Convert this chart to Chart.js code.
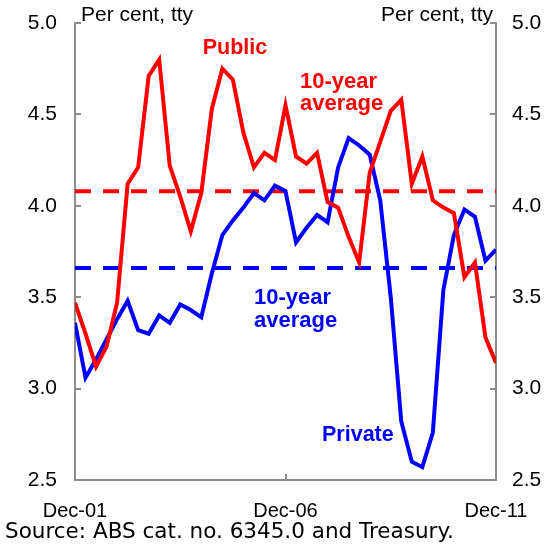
<!DOCTYPE html>
<html>
<head>
<meta charset="utf-8">
<script src="https://cdn.jsdelivr.net/npm/chart.js@4.4.1/dist/chart.umd.min.js"></script>
<style>
  html, body { margin: 0; padding: 0; background: #fff; }
</style>
</head>
<body>
<canvas id="chart" width="547" height="551"></canvas>
<script>
// quarterly, tty growth, per cent (Dec-01 to Dec-11)
const publicSeries = [3.47, 3.30, 3.12, 3.23, 3.47, 4.12, 4.21, 4.71, 4.80, 4.22,
  4.05, 3.86, 4.07, 4.53, 4.75, 4.69, 4.40, 4.21, 4.29, 4.25,
  4.55, 4.27, 4.23, 4.29, 4.02, 3.99, 3.83, 3.69, 4.18, 4.35,
  4.52, 4.58, 4.12, 4.27, 4.03, 3.99, 3.96, 3.61, 3.69, 3.28, 3.14];
const privateSeries = [3.36, 3.06, 3.16, 3.27, 3.38, 3.48, 3.32, 3.30, 3.40, 3.36,
  3.46, 3.43, 3.39, 3.63, 3.84, 3.92, 3.99, 4.07, 4.03, 4.11,
  4.08, 3.80, 3.88, 3.95, 3.91, 4.21, 4.37, 4.33, 4.28, 4.03,
  3.50, 2.82, 2.60, 2.57, 2.76, 3.54, 3.84, 3.98, 3.94, 3.70, 3.76];
const publicAverage = 4.08;
const privateAverage = 3.66;

const xTickPositions = [0, 20, 40];
const xTickLabels = ['Dec-01', 'Dec-06', 'Dec-11'];
const yMin = 2.5, yMax = 5.0, yStep = 0.5;

const RED = '#ff0000';
const BLUE = '#0000ff';
const AXIS = '#8c8c8c';
const lastIndex = publicSeries.length - 1;

const toPoints = arr => arr.map((v, i) => ({ x: i, y: v }));
const flat = v => [{ x: 0, y: v }, { x: lastIndex, y: v }];

const SANS = '"Liberation Sans", Arial, sans-serif';

const noPad = s => { s.paddingTop = 0; s.paddingBottom = 0; s.paddingLeft = 0; s.paddingRight = 0; };

const textPlugin = {
  id: 'labels',
  afterDraw(chart) {
    const ctx = chart.ctx;
    ctx.save();
    ctx.textBaseline = 'middle';
    ctx.fillStyle = '#000';
    ctx.font = '21px ' + SANS;
    ctx.textAlign = 'left';
    ctx.fillText('Per cent, tty', 81, 15);
    ctx.textAlign = 'right';
    ctx.fillText('Per cent, tty', 493, 15);

    ctx.font = 'bold 21.5px ' + SANS;
    ctx.fillStyle = RED;
    ctx.textAlign = 'center';
    ctx.fillText('Public', 235, 48);
    ctx.textAlign = 'left';
    ctx.font = 'bold 22px ' + SANS;
    ctx.fillText('10-year', 300, 82);
    ctx.fillText('average', 300, 104);

    ctx.fillStyle = BLUE;
    ctx.fillText('10-year', 254, 298);
    ctx.fillText('average', 254, 321);
    ctx.font = 'bold 21.5px ' + SANS;
    ctx.fillText('Private', 322, 435);

    ctx.fillStyle = '#000';
    ctx.font = '21.5px "DejaVu Sans", Verdana, sans-serif';
    ctx.fillText('Source: ABS cat. no. 6345.0 and Treasury.', 5, 532);
    ctx.restore();
  }
};

new Chart(document.getElementById('chart'), {
  type: 'line',
  data: {
    datasets: [
      { data: toPoints(publicSeries), borderColor: RED, borderWidth: 4, pointRadius: 0, tension: 0 },
      { data: toPoints(privateSeries), borderColor: BLUE, borderWidth: 4, pointRadius: 0, tension: 0 },
      { data: flat(publicAverage), borderColor: RED, borderWidth: 4, borderDash: [16, 12], pointRadius: 0 },
      { data: flat(privateAverage), borderColor: BLUE, borderWidth: 4, borderDash: [16, 12], pointRadius: 0 }
    ]
  },
  options: {
    responsive: false,
    animation: false,
    layout: { padding: { top: 23, left: 0, right: 0, bottom: 0 } },
    plugins: { legend: { display: false }, tooltip: { enabled: false } },
    scales: {
      x: {
        type: 'linear',
        min: 0,
        max: lastIndex,
        afterBuildTicks: s => { s.ticks = xTickPositions.map(v => ({ value: v })); },
        afterFit: s => { s.height = 71; noPad(s); },
        ticks: {
          autoSkip: false, maxRotation: 0, minRotation: 0, padding: 25,
          color: '#000', font: { family: SANS, size: 20 },
          callback: v => xTickLabels[xTickPositions.indexOf(v)]
        },
        grid: {
          drawOnChartArea: false, tickLength: -6, lineWidth: 2,
          color: c => (c.tick && c.tick.value === 20) ? AXIS : 'rgba(0,0,0,0)'
        },
        border: { color: AXIS, width: 2 }
      },
      y: {
        position: 'left',
        min: yMin, max: yMax,
        afterFit: s => { s.width = 75; noPad(s); },
        ticks: { stepSize: yStep, padding: 24, color: '#000', font: { family: SANS, size: 21 }, callback: v => v.toFixed(1) },
        grid: { drawOnChartArea: false, tickLength: -6, color: AXIS, lineWidth: 2 },
        border: { color: AXIS, width: 2 }
      },
      y2: {
        position: 'right',
        min: yMin, max: yMax,
        afterFit: s => { s.width = 51; noPad(s); },
        ticks: { stepSize: yStep, padding: 22, color: '#000', font: { family: SANS, size: 21 }, callback: v => v.toFixed(1) },
        grid: { drawOnChartArea: false, tickLength: -6, color: AXIS, lineWidth: 2 },
        border: { color: AXIS, width: 2 }
      }
    }
  },
  plugins: [textPlugin]
});
</script>
</body>
</html>
